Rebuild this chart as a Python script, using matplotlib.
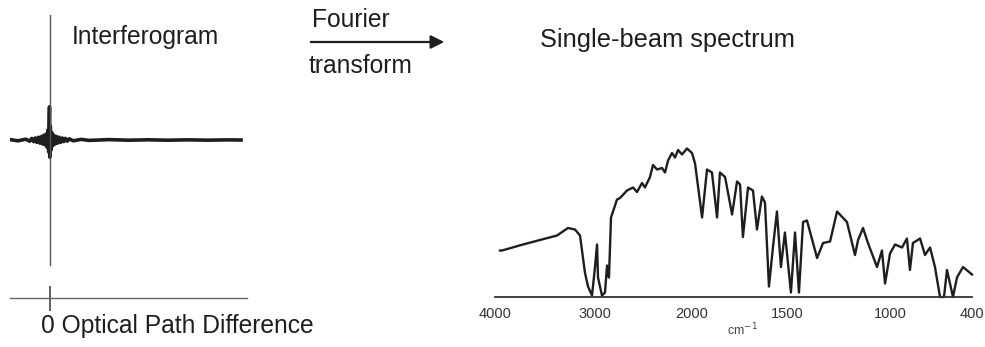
import matplotlib
matplotlib.use("Agg")
import matplotlib.pyplot as plt
import numpy as np
from matplotlib.patches import FancyArrowPatch
from matplotlib.ticker import NullLocator

plt.rcParams["font.family"] = ["Liberation Sans", "DejaVu Sans"]

W, H = 985, 347
INK = "#1e1e1e"

# interferogram: optical path difference (arb.) vs detector signal (arb.)
opd = [-1.0, -0.8, -0.6, -0.5, -0.45, -0.4, -0.36, -0.32, -0.28, -0.24,
       -0.2, -0.17, -0.14, -0.11, -0.08, -0.06, -0.04, -0.02, -0.01, 0.0,
       0.01, 0.02, 0.04, 0.06, 0.08, 0.11, 0.14, 0.17, 0.2, 0.24,
       0.28, 0.32, 0.36, 0.4, 0.45, 0.5, 0.6, 0.8, 1.0, 1.5,
       2.0, 2.5, 3.0, 3.5, 4.0, 4.5, 4.85]
signal = [0.01, -0.02, 0.02, -0.03, 0.04, -0.04, 0.05, -0.06, 0.07, -0.08,
          0.09, -0.1, 0.12, -0.12, 0.15, -0.18, 0.25, -0.3, 0.4, 0.83,
          -0.43, 0.35, -0.25, 0.18, -0.14, 0.12, -0.1, 0.09, -0.08, 0.07,
          -0.06, 0.05, -0.04, 0.04, -0.03, 0.03, -0.02, 0.015, -0.01, 0.01,
          -0.005, 0.005, -0.005, 0.004, -0.004, 0.003, 0.0]

# single-beam spectrum: wavenumber (cm-1) vs intensity (arb.)
wavenumber = [3950, 3930, 3720, 3550, 3380, 3270, 3200, 3150, 3100, 3070,
              3030, 3000, 2979, 2969, 2928, 2897, 2876, 2856, 2835, 2773,
              2742, 2670, 2608, 2567, 2515, 2485, 2433, 2402, 2361, 2309,
              2278, 2247, 2206, 2175, 2144, 2103, 2052, 2000, 1984, 1947,
              1921, 1895, 1868, 1853, 1826, 1789, 1763, 1747, 1732, 1705,
              1679, 1658, 1632, 1616, 1595, 1574, 1553, 1532, 1511, 1481,
              1461, 1442, 1422, 1403, 1354, 1325, 1291, 1257, 1209, 1170,
              1155, 1131, 1107, 1063, 1039, 1024, 1000, 963, 912, 876,
              854, 832, 780, 744, 707, 671, 634, 605, 583, 539,
              510, 466, 400]
intensity = [0.31, 0.31, 0.35, 0.38, 0.41, 0.46, 0.45, 0.41, 0.16, 0.07,
             0.01, 0.20, 0.35, 0.13, 0.01, 0.03, 0.21, 0.13, 0.53, 0.65,
             0.66, 0.71, 0.73, 0.70, 0.76, 0.73, 0.80, 0.88, 0.85, 0.86,
             0.83, 0.91, 0.96, 0.93, 0.98, 0.95, 0.99, 0.96, 0.89, 0.53,
             0.85, 0.83, 0.53, 0.83, 0.80, 0.55, 0.77, 0.75, 0.40, 0.73,
             0.71, 0.45, 0.67, 0.63, 0.07, 0.33, 0.57, 0.20, 0.43, 0.03,
             0.43, 0.03, 0.50, 0.51, 0.26, 0.36, 0.37, 0.57, 0.50, 0.28,
             0.38, 0.46, 0.36, 0.20, 0.31, 0.09, 0.29, 0.35, 0.33, 0.39,
             0.18, 0.36, 0.39, 0.28, 0.33, 0.20, 0.0, 0.0, 0.18, 0.0,
             0.13, 0.20, 0.15]
tick_wn = [4000, 3000, 2000, 1500, 1000, 400]
tick_text = ["4000", "3000", "2000", "1500", "1000", "400"]

# the printed wavenumber axis is not linear: piecewise map to pixel columns
SCALE_WN = [0, 400, 1000, 1500, 2000, 3000, 4000, 5000]
SCALE_PX = [1021, 972, 890, 787, 692, 595, 495, 395]


def wn_forward(w):
    return -np.interp(w, SCALE_WN, SCALE_PX)


def wn_inverse(u):
    return np.interp(-np.asarray(u), SCALE_PX[::-1], SCALE_WN[::-1])


def px_box(x0, y0, x1, y1):
    # pixel box (top-left origin) -> figure fractions
    return [x0 / W, 1 - y1 / H, (x1 - x0) / W, (y1 - y0) / H]


fig = plt.figure(figsize=(W / 100, H / 100), dpi=100)

# --- interferogram panel ---
ax1 = fig.add_axes(px_box(10, 15, 247, 298))
ax1.plot(opd, signal, color=INK, lw=2.6, solid_joinstyle="round")
ax1.axvline(0, ymin=(298 - 265) / 283, ymax=1.0, color="#555555", lw=1.0)
ax1.set_xlim(-1, 5)
ax1.set_ylim(-3.95, 3.125)
for side in ["top", "left", "right"]:
    ax1.spines[side].set_visible(False)
ax1.spines["bottom"].set_color("#666666")
ax1.spines["bottom"].set_linewidth(1.0)
ax1.set_yticks([])
ax1.set_xticks([0])
ax1.set_xticklabels([""])
ax1.tick_params(axis="x", direction="inout", length=18, width=1.2, color="#444444")
ax1.annotate("0 Optical Path Difference", xy=(0, 0),
             xycoords=("data", "axes fraction"), xytext=(-6, -20),
             textcoords="offset points", ha="left", va="center",
             fontsize=17.7, color=INK)
fig.text(72 / W, 1 - 37 / H, "Interferogram", fontsize=17.7, color=INK,
         ha="left", va="center")

# --- Fourier transform arrow ---
fig.add_artist(FancyArrowPatch((308 / W, 1 - 42 / H), (447 / W, 1 - 42 / H),
                               transform=fig.transFigure, arrowstyle="-|>",
                               mutation_scale=20, lw=1.6, color=INK))
fig.text(312 / W, 1 - 20 / H, "Fourier", fontsize=17.7, color=INK,
         ha="left", va="center")
fig.text(309 / W, 1 - 66 / H, "transform", fontsize=17.7, color=INK,
         ha="left", va="center")

# --- single-beam spectrum panel ---
ax2 = fig.add_axes(px_box(495, 147, 972, 297))
ax2.set_xscale("function", functions=(wn_forward, wn_inverse))
ax2.plot(wavenumber, intensity, color=INK, lw=1.7, clip_on=False)
ax2.set_xlim(4000, 400)
ax2.set_ylim(0, 1.0)
for side in ["top", "left", "right"]:
    ax2.spines[side].set_visible(False)
ax2.spines["bottom"].set_color("#333333")
ax2.spines["bottom"].set_linewidth(1.3)
ax2.set_yticks([])
ax2.set_xticks(tick_wn)
ax2.set_xticklabels(tick_text)
ax2.xaxis.set_minor_locator(NullLocator())
ax2.tick_params(axis="x", length=0, pad=7, labelsize=10.5, labelcolor="#333333")
fig.text(742 / W, 1 - 330 / H, "cm$^{-1}$", fontsize=9, color="#444444",
         ha="center", va="center")
fig.text(540 / W, 1 - 40 / H, "Single-beam spectrum", fontsize=18.3, color=INK,
         ha="left", va="center")

fig.savefig("out.png", dpi=100)
